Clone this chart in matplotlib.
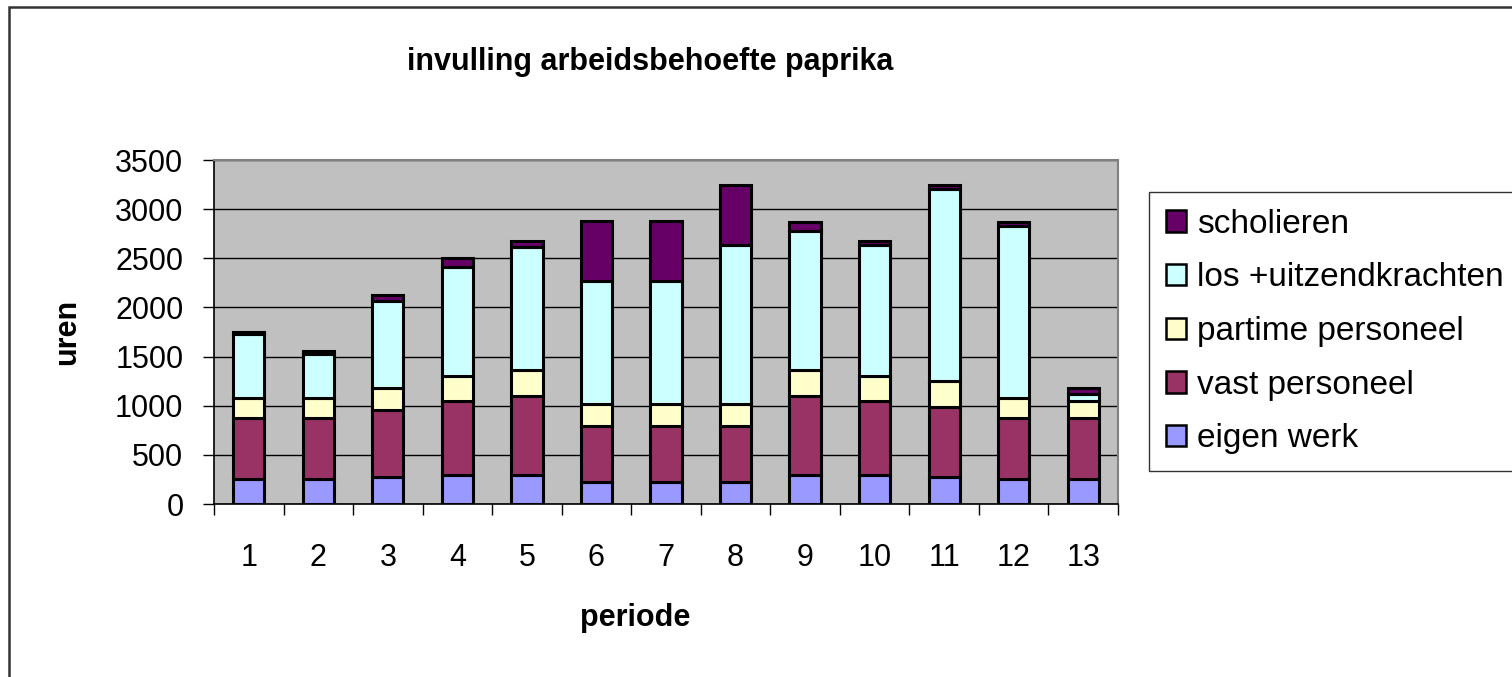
import numpy as np
import matplotlib.pyplot as plt
from matplotlib.patches import Rectangle, Patch

plt.rcParams['font.family'] = ['Liberation Sans', 'DejaVu Sans']

# data (uren per periode)
perioden = ['1', '2', '3', '4', '5', '6', '7', '8', '9', '10', '11', '12', '13']
eigen_werk = [250, 250, 275, 300, 300, 225, 225, 225, 300, 300, 275, 250, 250]
vast_personeel = [625, 625, 685, 750, 800, 565, 565, 565, 800, 750, 710, 625, 625]
partime_personeel = [200, 200, 225, 250, 260, 230, 230, 230, 260, 250, 265, 200, 170]
los_uitzend = [650, 450, 885, 1110, 1250, 1245, 1245, 1620, 1420, 1340, 1960, 1755, 75]
scholieren = [25, 35, 55, 90, 65, 610, 610, 605, 90, 35, 35, 40, 65]

series = [
    ('eigen werk', eigen_werk, '#9999FF'),
    ('vast personeel', vast_personeel, '#993366'),
    ('partime personeel', partime_personeel, '#FFFFCC'),
    ('los +uitzendkrachten', los_uitzend, '#CCFFFF'),
    ('scholieren', scholieren, '#660066'),
]

W, H = 1512, 677
fig = plt.figure(figsize=(W / 100, H / 100), dpi=100)
ax = fig.add_axes([214 / W, 1 - 504 / H, (1118 - 214) / W, (504 - 160) / H])
ax.set_facecolor('#C0C0C0')

x = np.arange(1, len(perioden) + 1)
bottom = np.zeros(len(perioden))
handles = []
for name, vals, col in series:
    ax.bar(x, vals, width=0.45, bottom=bottom, color=col,
           edgecolor='black', linewidth=2.2, zorder=3)
    bottom += np.array(vals)
    handles.append(Patch(facecolor=col, edgecolor='black', linewidth=1.8, label=name))

ax.set_xlim(0.5, len(perioden) + 0.5)
ax.set_ylim(0, 3500)
ax.set_yticks(np.arange(0, 3501, 500))
ax.yaxis.grid(True, color='black', linewidth=1.0, zorder=0)
ax.set_axisbelow(True)

ax.set_xticks(x)
ax.set_xticklabels(perioden)
ax.set_xticks(np.arange(0.5, len(perioden) + 1, 1), minor=True)
ax.tick_params(axis='x', which='major', length=0, pad=28, labelsize=22)
ax.tick_params(axis='x', which='minor', length=8, width=1, direction='out')
ax.tick_params(axis='y', length=8, width=1, direction='out', pad=14, labelsize=22)

for s in ['top', 'right']:
    ax.spines[s].set_color('#808080')
    ax.spines[s].set_linewidth(1.5)
for s in ['left', 'bottom']:
    ax.spines[s].set_color('black')
    ax.spines[s].set_linewidth(1.2)

ax.set_ylabel('uren', fontsize=22, fontweight='bold', labelpad=24)
fig.text(635 / W, 1 - 618 / H, 'periode', fontsize=22, fontweight='bold',
         ha='center', va='center')
fig.text(650 / W, 1 - 62 / H, 'invulling arbeidsbehoefte paprika', fontsize=22,
         fontweight='bold', ha='center', va='center')

leg = fig.legend(handles=handles[::-1], loc='upper left',
                 bbox_to_anchor=(1149 / W, 1 - 192 / H), fontsize=24,
                 handlelength=0.6, handleheight=0.6, handletextpad=0.35,
                 labelspacing=0.68, borderpad=0.5, borderaxespad=0,
                 fancybox=False, frameon=True)
leg.get_frame().set_edgecolor('black')
leg.get_frame().set_linewidth(1.0)

# outer chart border (only left/top visible)
fig.patches.append(Rectangle((9 / W, -0.5), 3.0, 1.5 - 7 / H,
                             transform=fig.transFigure, fill=False,
                             edgecolor='#333333', linewidth=1.8))

fig.savefig('out.png', dpi=100)
